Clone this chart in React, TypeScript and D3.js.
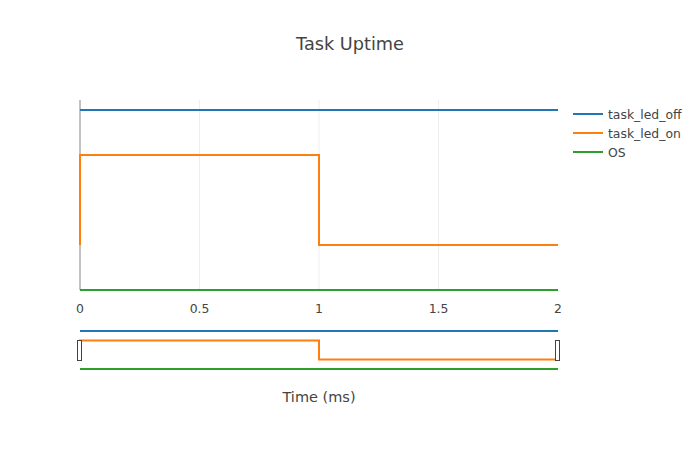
import React from 'react';
import * as d3 from 'd3';

// Trace data (time in ms, y = state level)
const seriesNames = ['task_led_off', 'task_led_on', 'OS'];
const seriesColors = ['#1f77b4', '#ff7f0e', '#2ca02c'];
const ledOffX = [0, 2];
const ledOffY = [4, 4];
const ledOnX = [0, 0, 1, 1, 2];
const ledOnY = [1, 3, 3, 1, 1];
const osX = [0, 2];
const osY = [0, 0];
const xTicks = [0, 0.5, 1, 1.5, 2];

const W = 700;
const H = 450;
const FONT = '"DejaVu Sans", verdana, arial, sans-serif';

const plot = { left: 80, right: 558, top: 100, bottom: 290 };
const slider = { top: 329, bottom: 369 };

export default function App() {
  const traces = [
    { x: ledOffX, y: ledOffY },
    { x: ledOnX, y: ledOnY },
    { x: osX, y: osY },
  ];

  const xScale = d3.scaleLinear().domain([0, 2]).range([plot.left, plot.right]);
  const yScale = d3.scaleLinear().domain([0, 4.22]).range([plot.bottom, plot.top]);
  const ySlider = d3.scaleLinear().domain([0, 4.22]).range([slider.bottom, slider.top]);

  const mkLine = (ys: d3.ScaleLinear<number, number>) =>
    d3.line<[number, number]>()
      .x(d => xScale(d[0]))
      .y(d => ys(d[1]));

  const mainLine = mkLine(yScale);
  const sliderLine = mkLine(ySlider);
  const pts = (t: { x: number[]; y: number[] }) => t.x.map((v, i) => [v, t.y[i]] as [number, number]);

  return (
    <svg width={W} height={H} style={{ position: 'absolute', left: 0, top: 0, background: '#fff' }}>
      <rect x={0} y={0} width={W} height={H} fill="#fff" />
      <text x={350} y={50} textAnchor="middle" fontFamily={FONT} fontSize={17.7} fill="#444">
        Task Uptime
      </text>

      {/* gridlines */}
      {xTicks.filter(t => t !== 0 && t !== 2).map(t => (
        <line key={t} x1={xScale(t)} x2={xScale(t)} y1={plot.top} y2={plot.bottom} stroke="#eee" strokeWidth={1} />
      ))}
      {/* zero line */}
      <line x1={xScale(0)} x2={xScale(0)} y1={plot.top} y2={plot.bottom} stroke="#999" strokeWidth={1.2} />

      {traces.map((t, i) => (
        <path key={i} d={mainLine(pts(t)) || ''} fill="none" stroke={seriesColors[i]} strokeWidth={2} />
      ))}

      {/* tick labels */}
      {xTicks.map(t => (
        <text key={t} x={xScale(t)} y={312.5} textAnchor="middle" fontFamily={FONT} fontSize={12.4} fill="#444">
          {t}
        </text>
      ))}

      {/* range slider */}
      {traces.map((t, i) => (
        <path key={'s' + i} d={sliderLine(pts(t)) || ''} fill="none" stroke={seriesColors[i]} strokeWidth={2} />
      ))}
      {[plot.left, plot.right].map((x, i) => (
        <rect key={i} x={x - 2.5} y={340.5} width={4} height={20} fill="#fff" stroke="#444" strokeWidth={1} />
      ))}

      <text x={319} y={402} textAnchor="middle" fontFamily={FONT} fontSize={14.5} fill="#444">
        Time (ms)
      </text>

      {/* legend */}
      {seriesNames.map((name, i) => (
        <g key={name} transform={`translate(573, ${114 + i * 19})`}>
          <line x1={0} x2={30} y1={0} y2={0} stroke={seriesColors[i]} strokeWidth={2} />
          <text x={35} y={4.5} fontFamily={FONT} fontSize={12.4} fill="#444">
            {name}
          </text>
        </g>
      ))}
    </svg>
  );
}
